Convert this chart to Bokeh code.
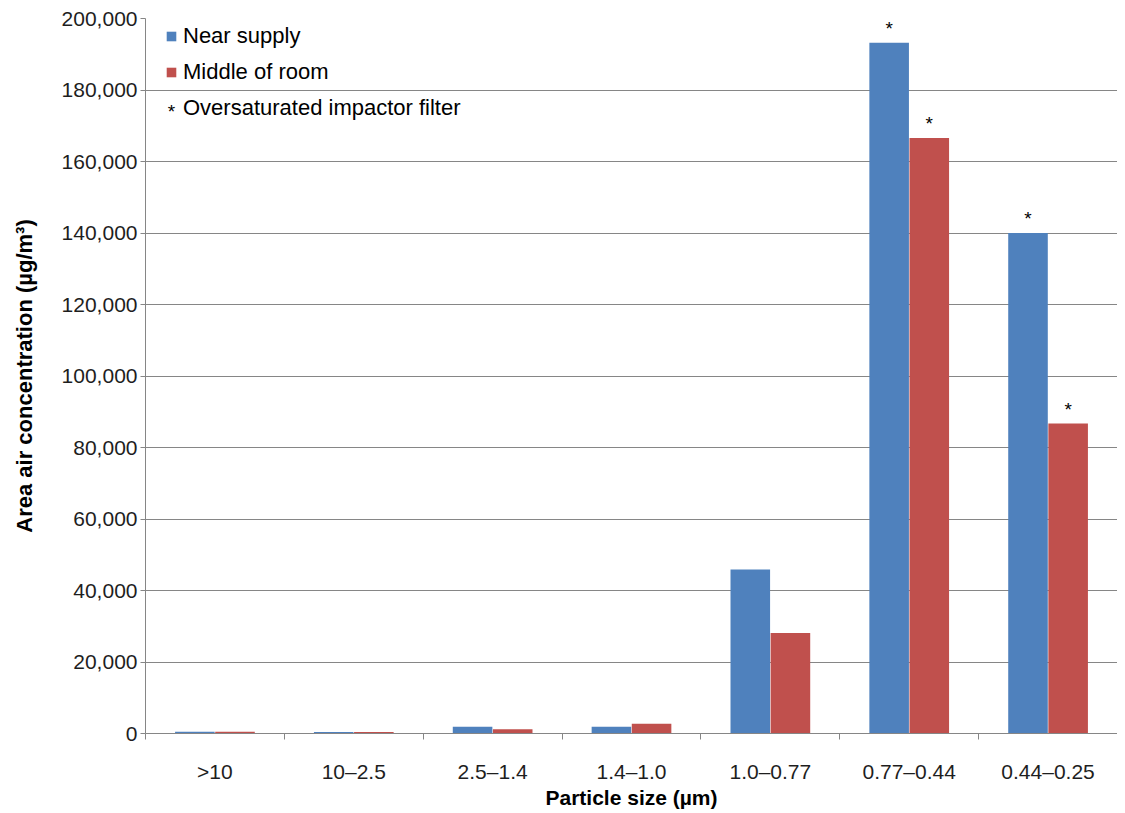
from bokeh.plotting import figure
from bokeh.models import (ColumnDataSource, FixedTicker, NumeralTickFormatter, Range1d,
                          Legend, LegendItem, Label)
from bokeh.core.properties import value
from bokeh.embed import file_html
from bokeh.resources import INLINE

categories = [">10", "10–2.5", "2.5–1.4", "1.4–1.0", "1.0–0.77", "0.77–0.44", "0.44–0.25"]
near_supply = [500, 400, 1900, 1900, 45900, 193200, 140000]
middle_room = [500, 400, 1200, 2700, 28100, 166600, 86700]
near_flag = [False, False, False, False, False, True, True]
middle_flag = [False, False, False, False, False, True, True]

BLUE = "#4F81BD"
RED = "#C0504D"
FONT = "Liberation Sans"
BAR_W = 0.285
OFF = 0.1445
FRAME_H = 715

idx = list(range(len(categories)))
src_near = ColumnDataSource(dict(x=[i + 0.5 - OFF for i in idx], top=near_supply))
src_mid = ColumnDataSource(dict(x=[i + 0.5 + OFF for i in idx], top=middle_room))

star_x = [i + 0.5 - OFF for i in idx if near_flag[i]] + [i + 0.5 + OFF for i in idx if middle_flag[i]]
star_y = [near_supply[i] for i in idx if near_flag[i]] + [middle_room[i] for i in idx if middle_flag[i]]
src_star = ColumnDataSource(dict(x=star_x, y=star_y, t=["*"] * len(star_x)))

p = figure(frame_width=972, frame_height=FRAME_H, output_backend="svg", toolbar_location=None,
           x_range=Range1d(0, 7), y_range=Range1d(0, 200000),
           min_border_left=145, min_border_right=0, min_border_top=18, min_border_bottom=72)
p.outline_line_color = None
p.background_fill_color = "white"

r1 = p.vbar(x="x", top="top", width=BAR_W, source=src_near, fill_color=BLUE, line_color=None)
r2 = p.vbar(x="x", top="top", width=BAR_W, source=src_mid, fill_color=RED, line_color=None)
p.text(x="x", y="y", text="t", source=src_star, text_font=value(FONT), text_font_size="19px",
       text_align="center", text_baseline="bottom", y_offset=-4, text_color="black")
r3 = p.scatter(x=[], y=[], marker="asterisk", size=7, line_color="black", line_width=1)

# axes
p.xaxis.ticker = FixedTicker(ticks=[i + 0.5 for i in idx], minor_ticks=list(range(8)))
p.xaxis.major_label_overrides = {i + 0.5: c for i, c in enumerate(categories)}
p.xaxis.major_tick_out = 0
p.xaxis.major_tick_in = 0
p.xaxis.minor_tick_out = 6
p.xaxis.minor_tick_in = 0
p.xaxis.minor_tick_line_color = "#868686"
p.xaxis.axis_line_color = "#868686"
p.xaxis.major_label_standoff = 20
p.xaxis.major_label_text_font = FONT
p.xaxis.major_label_text_font_size = "21px"
p.xaxis.major_label_text_color = "#1e1e1e"
p.xaxis.axis_label = "Particle size (µm)"
p.xaxis.axis_label_text_font = FONT
p.xaxis.axis_label_text_font_style = "bold"
p.xaxis.axis_label_text_font_size = "21px"
p.xaxis.axis_label_standoff = 0
p.xaxis.axis_label_text_color = "black"

p.yaxis.ticker = FixedTicker(ticks=list(range(0, 200001, 20000)))
p.yaxis.formatter = NumeralTickFormatter(format="0,0")
p.yaxis.major_tick_out = 5
p.yaxis.major_tick_in = 0
p.yaxis.minor_tick_line_color = None
p.yaxis.axis_line_color = "#868686"
p.yaxis.major_tick_line_color = "#868686"
p.yaxis.major_label_standoff = 3
p.yaxis.major_label_text_font = FONT
p.yaxis.major_label_text_font_size = "21px"
p.yaxis.major_label_text_color = "#1e1e1e"
p.yaxis.axis_label = "Area air concentration (µg/m³)"
p.yaxis.axis_label_text_font = FONT
p.yaxis.axis_label_text_font_style = "bold"
p.yaxis.axis_label_text_font_size = "22px"
p.yaxis.axis_label_standoff = 22
p.yaxis.axis_label_text_color = "black"

p.xgrid.grid_line_color = None
p.ygrid.grid_line_color = "#868686"
p.ygrid.ticker = p.yaxis.ticker

legend = Legend(items=[LegendItem(label="Near supply", renderers=[r1]),
                       LegendItem(label="Middle of room", renderers=[r2]),
                       LegendItem(label="Oversaturated impactor filter", renderers=[r3])],
                location=(20, FRAME_H - 103), border_line_color=None, background_fill_alpha=0,
                padding=0, margin=0, spacing=10, label_height=25, glyph_height=12,
                glyph_width=12, label_standoff=6, label_text_font=FONT,
                label_text_font_size="22px", label_text_color="black")
p.add_layout(legend)

# asterisk symbol for the third legend entry
p.add_layout(Label(x=26, y=FRAME_H - 93, x_units="screen", y_units="screen", text="*",
                   text_font=FONT, text_font_size="19px", text_align="center",
                   text_baseline="middle", text_color="black"))

open("out.html", "w").write(file_html(p, INLINE))
